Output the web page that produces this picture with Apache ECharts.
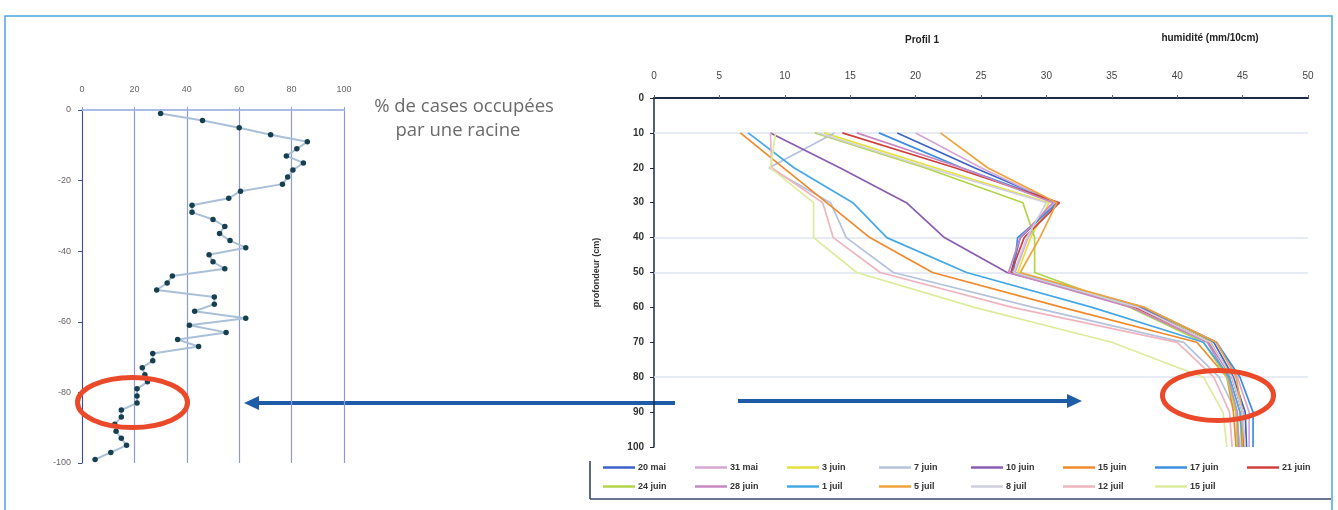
<!DOCTYPE html>
<html>
<head>
<meta charset="utf-8">
<script src="https://cdn.jsdelivr.net/npm/echarts@6/dist/echarts.min.js"></script>
<style>
html,body{margin:0;padding:0;background:#fff}
#c{width:1338px;height:510px}
</style>
</head>
<body>
<div id="c"></div>
<script>
// Root profile: depth of each cell row (cm) and share of cells holding a root (%)
const rootDepths = [1,3,5,7,9,11,13,15,17,19,21,23,25,27,29,31,33,35,37,39,41,43,45,47,49,
                    51,53,55,57,59,61,63,65,67,69,71,73,75,77,79,81,83,85,87,89,91,93,95,97,99];
const rootShare = [30,46,60,72,86,82,78,84.5,80.5,78.5,76.5,60.5,56,42,42,50,54.5,52.5,56.5,62.5,
                   48.5,50,54.5,34.5,32.5,28.5,50.5,50.5,43,62.5,41,55,36.5,44.5,27,27,23,24,25,21,
                   21,21,15,15,12.5,13,15,17,11,5];

// Soil moisture profiles (mm/10cm) measured at each depth level
const depthLevels = [10,20,30,40,50,60,70,80,90,100];
const dates = ['20 mai','31 mai','3 juin','7 juin','10 juin','15 juin','17 juin','21 juin',
               '24 juin','28 juin','1 juil','5 juil','8 juil','12 juil','15 juil'];
const h20mai  = [18.6,24.5,30.8,28.0,27.3,37.0,42.8,44.3,45.2,45.3];
const h31mai  = [20.0,25.0,30.6,28.6,27.6,37.5,43.0,44.6,45.5,45.5];
const h03juin = [13.0,21.5,30.2,28.8,27.8,37.3,42.6,44.0,44.8,44.9];
const h07juin = [13.8,8.8,13.5,14.7,18.3,29.0,40.5,43.2,44.5,44.8];
const h10juin = [8.9,14.2,19.3,22.2,27.0,37.2,42.4,44.2,45.0,45.1];
const h15juin = [6.6,9.9,13.2,16.5,21.3,31.2,41.5,43.8,44.3,44.5];
const h17juin = [17.2,23.5,30.9,27.8,27.5,37.4,43.0,44.8,45.8,45.8];
const h21juin = [14.4,23.0,31.0,28.3,27.3,36.8,42.5,44.2,45.0,45.0];
const h24juin = [12.3,20.7,28.2,29.1,29.1,36.4,42.0,43.8,44.5,44.6];
const h28juin = [15.5,23.5,30.5,28.0,27.1,36.5,42.3,43.9,44.6,44.7];
const h01juil = [7.2,10.7,15.2,17.8,23.9,33.5,42.0,44.0,44.8,45.0];
const h05juil = [21.9,25.5,30.8,29.5,28.0,37.5,43.0,44.5,45.0,45.0];
const h08juil = [12.5,21.0,30.0,28.5,27.5,37.0,42.5,44.2,45.0,45.2];
const h12juil = [8.9,9.0,12.9,13.7,17.3,27.4,40.0,42.8,44.0,44.2];
const h15juil = [9.3,8.9,12.2,12.2,15.5,24.5,35.0,42.0,43.5,43.8];
const profiles = [h20mai,h31mai,h03juin,h07juin,h10juin,h15juin,h17juin,h21juin,
                  h24juin,h28juin,h01juil,h05juil,h08juil,h12juil,h15juil];

const lineColors = ['#3a62c8','#d6a6d4','#e6e03a','#b4c2dc','#8a5cb0','#f08a2c','#3c8ee0','#d0403c',
                    '#b2d446','#c888c0','#44a8e4','#f0a23c','#cfcfe0','#eeb4c0','#dcec9c'];

const FONT = 'Liberation Sans, Arial, sans-serif';

const moistureSeries = profiles.map((vals, i) => ({
  name: dates[i],
  type: 'line',
  xAxisIndex: 1,
  yAxisIndex: 1,
  data: depthLevels.map((d, j) => [vals[j], d]),
  symbol: 'none',
  lineStyle: { width: 1.7, color: lineColors[i] },
  itemStyle: { color: lineColors[i] },
  z: 3
}));
// faint horizontal guides
moistureSeries[0].markLine = {
  silent: true, symbol: 'none', z: 1,
  label: { show: false },
  lineStyle: { color: '#dfe6f0', width: 1.5, type: 'solid' },
  data: [{ yAxis: 10 }, { yAxis: 40 }, { yAxis: 50 }, { yAxis: 80 }]
};

// legend laid out as a grid: 8 columns, two rows
const legends = dates.map((name, i) => ({
  left: 603 + (i % 8) * 92,
  top: i < 8 ? 463 : 482,
  data: [name],
  itemGap: 0, itemWidth: 32, itemHeight: 2.5, icon: 'rect', padding: 0,
  textStyle: { fontSize: 9, fontWeight: 'bold', color: '#333', fontFamily: FONT, padding: [0, 0, 0, -2] }
}));

function arrow(x1, x2, y, color) {
  const dir = x2 > x1 ? 1 : -1;
  const head = 15;
  return [
    { type: 'line', shape: { x1: x1, y1: y, x2: x2 - dir * head, y2: y }, style: { stroke: color, lineWidth: 4 } },
    { type: 'polygon', shape: { points: [[x2, y], [x2 - dir * head, y - 7], [x2 - dir * head, y + 7]] }, style: { fill: color } }
  ];
}

const chart = echarts.init(document.getElementById('c'), null, { renderer: 'canvas' });
chart.setOption({
  animation: false,
  backgroundColor: '#ffffff',
  textStyle: { fontFamily: FONT },
  grid: [
    { left: 82, top: 110, width: 262, height: 353 },
    { left: 654, top: 98, width: 654, height: 349 }
  ],
  xAxis: [
    {
      gridIndex: 0, type: 'value', position: 'top', min: 0, max: 100, interval: 20,
      axisLine: { show: true, lineStyle: { color: '#a9bde3', width: 2 } },
      axisTick: { show: true, length: 3, lineStyle: { color: '#8fa3d4' } },
      axisLabel: { fontSize: 9, color: '#666', margin: 16 },
      splitLine: { show: true, lineStyle: { color: '#8d9ad6', width: 1.2 } }
    },
    {
      gridIndex: 1, type: 'value', position: 'top', min: 0, max: 50, interval: 5,
      axisLine: { show: true, lineStyle: { color: '#1d2a44', width: 2 } },
      axisTick: { show: true, length: 3, lineStyle: { color: '#666' } },
      axisLabel: { fontSize: 10, color: '#444', margin: 17 },
      splitLine: { show: false }
    }
  ],
  yAxis: [
    {
      gridIndex: 0, type: 'value', min: -100, max: 0, interval: 20,
      axisLine: { show: true, onZero: false, lineStyle: { color: '#3a4f9a', width: 1 } },
      axisTick: { show: true, length: 4, lineStyle: { color: '#3a4f9a' } },
      axisLabel: { fontSize: 9, color: '#666', margin: 11 },
      splitLine: { show: false }
    },
    {
      gridIndex: 1, type: 'value', inverse: true, min: 0, max: 100, interval: 10,
      name: 'profondeur (cm)', nameLocation: 'middle', nameGap: 53, nameRotate: 90,
      nameTextStyle: { fontSize: 9, fontWeight: 'bold', color: '#333' },
      axisLine: { show: true, onZero: false, lineStyle: { color: '#1d2a44', width: 1.5 } },
      axisTick: { show: true, length: 4, lineStyle: { color: '#1d2a44' } },
      axisLabel: { fontSize: 10, fontWeight: 'bold', color: '#333', margin: 10 },
      splitLine: { show: false }
    }
  ],
  legend: legends,
  series: [
    {
      name: 'racines', type: 'line', xAxisIndex: 0, yAxisIndex: 0,
      data: rootDepths.map((d, i) => [rootShare[i], -d]),
      symbol: 'circle', symbolSize: 5.5,
      lineStyle: { color: '#aac0d8', width: 2 },
      itemStyle: { color: '#16404f' },
      z: 3
    }
  ].concat(moistureSeries),
  graphic: [
    { type: 'rect', shape: { x: 5, y: 16, width: 1327, height: 510 }, style: { fill: 'none', stroke: '#4aa6de', lineWidth: 1.5 }, silent: true },
    { type: 'line', shape: { x1: 590, y1: 461, x2: 590, y2: 499 }, style: { stroke: '#2c3650', lineWidth: 1.5 } },
    { type: 'line', shape: { x1: 590, y1: 499, x2: 1331, y2: 499 }, style: { stroke: '#3a4a6a', lineWidth: 1.5 } },
    { type: 'text', style: { x: 922, y: 40, text: 'Profil 1', fill: '#222', font: 'bold 10px ' + FONT, textAlign: 'center', textVerticalAlign: 'middle' } },
    { type: 'text', style: { x: 1210, y: 38, text: 'humidité (mm/10cm)', fill: '#222', font: 'bold 10px ' + FONT, textAlign: 'center', textVerticalAlign: 'middle' } },
    { type: 'text', style: { x: 464, y: 107, text: '% de cases occupées', fill: '#6b6b6b', font: '18.5px Open Sans', textAlign: 'center', textVerticalAlign: 'middle' } },
    { type: 'text', style: { x: 458, y: 131, text: 'par une racine', fill: '#6b6b6b', font: '18.5px Open Sans', textAlign: 'center', textVerticalAlign: 'middle' } },
    { type: 'ellipse', shape: { cx: 132.5, cy: 402.5, rx: 55, ry: 25 }, style: { fill: 'none', stroke: '#ea4a2a', lineWidth: 5 }, z: 100 },
    { type: 'ellipse', shape: { cx: 1218, cy: 395.5, rx: 55.5, ry: 25 }, style: { fill: 'none', stroke: '#ea4a2a', lineWidth: 5 }, z: 100 }
  ].concat(arrow(675, 244, 403, '#1f5ca8'), arrow(738, 1082, 401, '#1f5ca8'))
});
</script>
</body>
</html>
